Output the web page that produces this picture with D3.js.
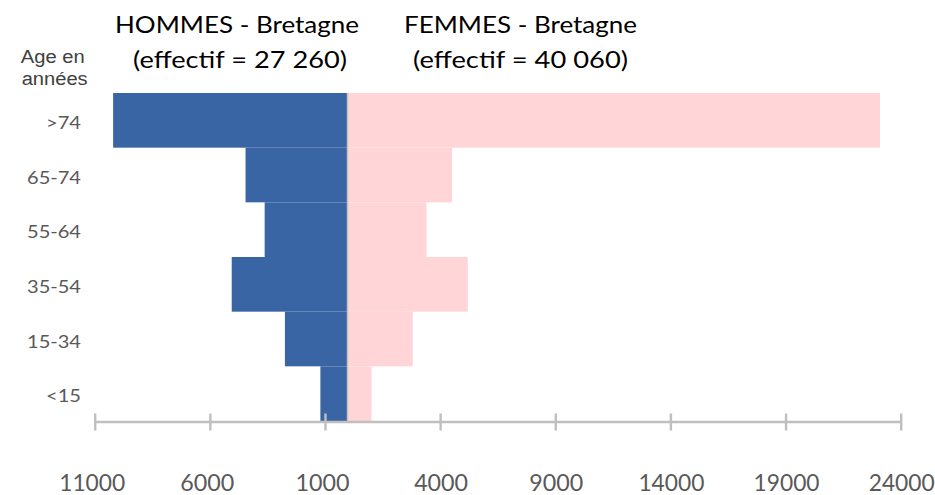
<!DOCTYPE html>
<html>
<head>
<meta charset="utf-8">
<script src="https://cdn.jsdelivr.net/npm/d3@7"></script>
<style>
  html, body { margin: 0; padding: 0; background: #fff; }
  svg { display: block; }
</style>
</head>
<body>
<svg id="chart" width="935" height="495"></svg>
<script>
// Age groups, oldest at the top
const categories = [">74", "65-74", "55-64", "35-54", "15-34", "<15"];
// Head counts per age group
const hommes = [10200, 4450, 3620, 5050, 2740, 1200];   // total 27 260
const femmes = [23100, 4520, 3410, 5200, 2810, 1020];   // total 40 060
// Axis ticks (men are plotted as negative values)
const tickValues = [-11000, -6000, -1000, 4000, 9000, 14000, 19000, 24000];
const titles = [
  ["HOMMES - Bretagne", "(effectif = 27 260)"],
  ["FEMMES - Bretagne", "(effectif = 40 060)"]
];

const svg = d3.select("#chart");

const x = d3.scaleLinear().domain([-11000, 24000]).range([94.7, 900.7]);
const y = d3.scaleBand().domain(categories).range([93, 421]).padding(0);

const rows = categories.map((c, i) => ({ cat: c, h: hommes[i], f: femmes[i] }));

// Men bars extend to the left of zero
svg.append("g").selectAll("rect").data(rows).join("rect")
  .attr("x", d => x(-d.h))
  .attr("y", d => y(d.cat))
  .attr("width", d => x(0) - x(-d.h))
  .attr("height", y.bandwidth())
  .attr("fill", "#3A65A4");

// Women bars extend to the right of zero
svg.append("g").selectAll("rect").data(rows).join("rect")
  .attr("x", x(0))
  .attr("y", d => y(d.cat))
  .attr("width", d => x(d.f) - x(0))
  .attr("height", y.bandwidth())
  .attr("fill", "#FFD5D7");

// Vertical zero line
svg.append("line")
  .attr("x1", x(0) - 0.5).attr("x2", x(0) - 0.5)
  .attr("y1", 93).attr("y2", 421)
  .attr("stroke", "#C4C4C4").attr("stroke-width", 1.5);

// Horizontal axis with crossing ticks
const axisY = 422;
const axis = svg.append("g")
  .attr("transform", `translate(0,${axisY})`)
  .call(d3.axisBottom(x).tickValues(tickValues).tickFormat(d => String(Math.abs(d))).tickSizeOuter(0));
axis.select(".domain")
  .attr("d", `M${x(-11000)},0H${x(24000)}`)
  .attr("stroke", "#BFBFBF").attr("stroke-width", 2.6);
axis.selectAll(".tick line")
  .attr("y1", -8.5).attr("y2", 8.5)
  .attr("stroke", "#BFBFBF").attr("stroke-width", 2.4);
axis.selectAll(".tick text")
  .attr("y", 69).attr("dy", 0)
  .attr("dx", d => d < 0 ? -3 : 0.5)
  .attr("fill", "#595959")
  .style("font-family", "Lato, 'Open Sans', sans-serif")
  .style("font-size", "23px")
  .attr("textLength", d => String(Math.abs(d)).length === 5 ? 66 : 54)
  .attr("lengthAdjust", "spacingAndGlyphs");

// Category labels
svg.append("g").selectAll("text").data(categories).join("text")
  .attr("x", 81)
  .attr("y", d => y(d) + y.bandwidth() / 2 + 8.5)
  .attr("text-anchor", "end")
  .attr("fill", "#595959")
  .style("font-family", "Lato, 'Open Sans', sans-serif")
  .style("font-size", "18px")
  .attr("textLength", d => d.length === 3 ? 35 : 54)
  .attr("lengthAdjust", "spacingAndGlyphs")
  .text(d => d);

// Axis caption
const cap = svg.append("g")
  .attr("fill", "#404040")
  .style("font-family", "'Liberation Sans', Arial, sans-serif")
  .style("font-size", "18px");
cap.append("text").attr("x", 20.7).attr("y", 63)
  .attr("textLength", 64).attr("lengthAdjust", "spacingAndGlyphs").text("Age en");
cap.append("text").attr("x", 21.7).attr("y", 85)
  .attr("textLength", 66).attr("lengthAdjust", "spacingAndGlyphs").text("années");

// Titles above each half
const titleLayout = [
  { x1: 115, w1: 244, x2: 133, w2: 214 },
  { x1: 404, w1: 233, x2: 413, w2: 215 }
];
const tg = svg.append("g")
  .attr("fill", "#000")
  .style("font-family", "Lato, 'Open Sans', sans-serif")
  .style("font-size", "24px");
titles.forEach((t, i) => {
  const L = titleLayout[i];
  tg.append("text").attr("x", L.x1).attr("y", 33)
    .attr("textLength", L.w1).attr("lengthAdjust", "spacingAndGlyphs").text(t[0]);
  tg.append("text").attr("x", L.x2).attr("y", 68)
    .attr("textLength", L.w2).attr("lengthAdjust", "spacingAndGlyphs").text(t[1]);
});
</script>
</body>
</html>
